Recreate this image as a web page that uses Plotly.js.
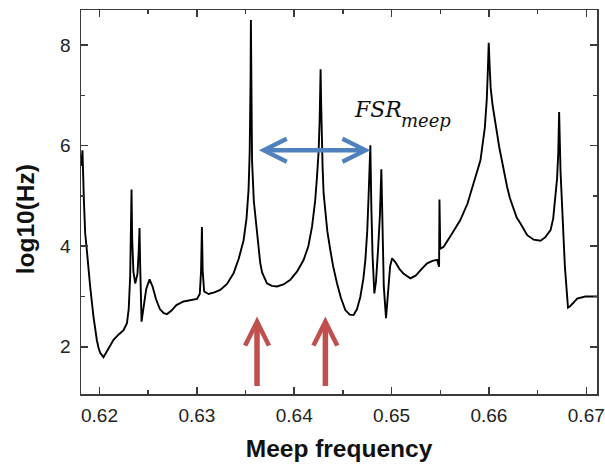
<!DOCTYPE html>
<html>
<head>
<meta charset="utf-8">
<script src="https://cdn.plot.ly/plotly-3.0.1.min.js"></script>
<style>html,body{margin:0;padding:0;background:#fff;}#chart{width:605px;height:465px;}</style>
</head>
<body>
<div id="chart"></div>
<script>
// Spectrum
const freq = [
  0.61812, 0.61825, 0.61840, 0.61853, 0.61870, 0.61885, 0.61904, 0.61938, 0.61955, 0.61973,
  0.61990, 0.62007, 0.62041, 0.62090, 0.62144, 0.62200, 0.62247, 0.62282, 0.62300, 0.62315,
  0.62323, 0.62329, 0.62335, 0.62348, 0.62367, 0.62390, 0.62403, 0.62411, 0.62418, 0.62425,
  0.62432, 0.62450, 0.62480, 0.62514, 0.62545, 0.62580, 0.62620, 0.62660, 0.62693, 0.62740,
  0.62790, 0.62863, 0.62930, 0.63001, 0.63030, 0.63043, 0.63052, 0.63060, 0.63075, 0.63120,
  0.63180, 0.63240, 0.63310, 0.63377, 0.63430, 0.63480, 0.63510, 0.63531, 0.63543, 0.63549,
  0.63552, 0.63555, 0.63558, 0.63561, 0.63567, 0.63585, 0.63600, 0.63625, 0.63640, 0.63648,
  0.63652, 0.63670, 0.63720, 0.63770, 0.63823, 0.63890, 0.63960, 0.64030, 0.64097, 0.64145,
  0.64183, 0.64215, 0.64234, 0.64251, 0.64261, 0.64266, 0.64271, 0.64276, 0.64281, 0.64291,
  0.64302, 0.64321, 0.64340, 0.64371, 0.64400, 0.64440, 0.64480, 0.64525, 0.64570, 0.64610,
  0.64645, 0.64679, 0.64710, 0.64731, 0.64750, 0.64765, 0.64775, 0.64782, 0.64792, 0.64805,
  0.64823, 0.64840, 0.64860, 0.64880, 0.64895, 0.64905, 0.64920, 0.64943, 0.64965, 0.64985,
  0.65005, 0.65040, 0.65080, 0.65124, 0.65193, 0.65250, 0.65310, 0.65365, 0.65420, 0.65468,
  0.65488, 0.65492, 0.65500, 0.65535, 0.65620, 0.65706, 0.65780, 0.65844, 0.65913, 0.65958,
  0.65978, 0.65988, 0.65998, 0.66008, 0.66018, 0.66038, 0.66058, 0.66084, 0.66105, 0.66130,
  0.66155, 0.66187, 0.66215, 0.66250, 0.66285, 0.66324, 0.66393, 0.66460, 0.66530, 0.66580,
  0.66633, 0.66660, 0.66684, 0.66700, 0.66712, 0.66721, 0.66735, 0.66780, 0.66812, 0.66830,
  0.66860, 0.66906, 0.66990, 0.67077, 0.67115
];
const logHz = [
  5.60, 5.91, 4.90, 4.26, 3.92, 3.55, 3.20, 2.60, 2.35, 2.13,
  1.98, 1.88, 1.79, 1.95, 2.14, 2.25, 2.33, 2.47, 2.75, 3.40,
  4.20, 5.13, 4.20, 3.50, 3.26, 3.45, 3.90, 4.36, 3.60, 2.90,
  2.50, 2.75, 3.15, 3.34, 3.20, 2.95, 2.75, 2.67, 2.65, 2.72,
  2.83, 2.90, 2.92, 2.95, 3.05, 3.50, 4.38, 3.50, 3.10, 3.05,
  3.08, 3.13, 3.25, 3.46, 3.75, 4.12, 4.55, 5.12, 5.90, 6.60,
  7.40, 8.50, 7.30, 6.50, 5.70, 4.90, 4.59, 4.05, 3.80, 3.72,
  3.66, 3.48, 3.26, 3.21, 3.20, 3.24, 3.33, 3.50, 3.73, 4.00,
  4.39, 4.90, 5.38, 5.90, 6.50, 7.00, 7.52, 6.90, 6.30, 5.60,
  5.05, 4.60, 4.30, 3.92, 3.60, 3.26, 2.97, 2.73, 2.64, 2.63,
  2.75, 2.99, 3.35, 3.73, 4.30, 5.05, 5.50, 6.01, 4.80, 3.80,
  3.06, 3.30, 3.90, 4.60, 5.53, 4.20, 3.20, 2.57, 3.20, 3.60,
  3.76, 3.68, 3.55, 3.45, 3.36, 3.42, 3.55, 3.66, 3.71, 3.73,
  3.59, 4.93, 3.95, 3.99, 4.25, 4.52, 4.85, 5.25, 5.71, 6.36,
  6.93, 7.45, 8.05, 7.55, 7.15, 6.80, 6.52, 6.24, 5.98, 5.72,
  5.46, 5.18, 4.96, 4.74, 4.57, 4.45, 4.22, 4.13, 4.11, 4.18,
  4.32, 4.55, 4.98, 5.35, 5.85, 6.67, 5.50, 3.60, 2.78, 2.80,
  2.86, 2.96, 3.00, 3.00, 3.00
];
const xTickVals = [0.62, 0.63, 0.64, 0.65, 0.66, 0.67];
const xTickText = ["0.62", "0.63", "0.64", "0.65", "0.66", "0.67"];
const yTickVals = [2, 4, 6, 8];
const yTickText = ["2", "4", "6", "8"];
const xTitle = "Meep frequency";
const yTitle = "log10(Hz)";
const fsrMain = "FSR";
const fsrSub = "meep";

const RED = "rgb(192,80,77)";
const BLUE = "rgb(79,129,189)";
const FONT = "Arial, 'Liberation Sans', sans-serif";

const trace = {
  x: freq, y: logHz, type: "scatter", mode: "lines",
  line: {color: "#000", width: 1.9, shape: "linear"},
  hoverinfo: "skip"
};

const axisCommon = {
  showgrid: false, zeroline: false, showline: true, linecolor: "#3a3a3a", linewidth: 1.5,
  mirror: "ticks", ticks: "inside", ticklen: 7, tickwidth: 1.5, tickcolor: "#3a3a3a",
  tickfont: {family: FONT, size: 19, color: "#222"}
};

const layout = {
  width: 605, height: 465,
  margin: {l: 81, r: 8, t: 10, b: 71},
  paper_bgcolor: "#fff", plot_bgcolor: "#fff",
  showlegend: false,
  xaxis: Object.assign({}, axisCommon, {
    range: [0.6181, 0.6711], tickmode: "array", tickvals: xTickVals, ticktext: xTickText,
    ticklabelstandoff: 4,
    minor: {dtick: 0.005, tick0: 0.615, ticks: "inside", ticklen: 4, tickwidth: 1.5, tickcolor: "#3a3a3a"},
    title: {text: xTitle, font: {family: FONT, size: 24.5, color: "#111", weight: "bold"}, standoff: 14}
  }),
  yaxis: Object.assign({}, axisCommon, {
    range: [1.06, 8.70], tickmode: "array", tickvals: yTickVals, ticktext: yTickText,
    ticklabelstandoff: 5,
    minor: {dtick: 1, tick0: 1, ticks: "inside", ticklen: 4, tickwidth: 1.5, tickcolor: "#3a3a3a"}
  }),
  annotations: [
    // y axis title (placed slightly below the plot centre, as in the reference)
    {xref: "paper", yref: "paper", x: -0.1085, y: 0.455, xanchor: "center", yanchor: "middle",
     textangle: -90, showarrow: false, text: "<b>" + yTitle + "</b>",
     font: {family: FONT, size: 24.5, color: "#111"}},
    // red arrows
    {x: 0.63618, y: 2.60, xref: "x", yref: "y", ax: 0, ay: 71, text: "", showarrow: true,
     arrowhead: 5, arrowsize: 0.85, arrowwidth: 5.5, arrowcolor: RED, standoff: 0},
    {x: 0.64320, y: 2.60, xref: "x", yref: "y", ax: 0, ay: 71, text: "", showarrow: true,
     arrowhead: 5, arrowsize: 0.85, arrowwidth: 5.5, arrowcolor: RED, standoff: 0},
    // blue double arrow
    {x: 0.64782, y: 5.91, xref: "x", yref: "y", ax: -113, ay: 0, text: "", showarrow: true,
     arrowside: "end+start", arrowhead: 5, startarrowhead: 5, arrowsize: 1.0, startarrowsize: 1.0,
     arrowwidth: 4.5, arrowcolor: BLUE, standoff: 0, startstandoff: 0},
    // FSR label
    {x: 0.64597, y: 6.73, xref: "x", yref: "y", xanchor: "left", yanchor: "middle", showarrow: false,
     text: "<i>" + fsrMain + "</i>", font: {family: "'DejaVu Serif', serif", size: 22, color: "#111"}},
    {x: 0.65075, y: 6.50, xref: "x", yref: "y", xanchor: "left", yanchor: "middle", showarrow: false,
     text: "<i>" + fsrSub + "</i>", font: {family: "'DejaVu Serif', serif", size: 18, color: "#111"}}
  ]
};

Plotly.newPlot("chart", [trace], layout, {staticPlot: true, displayModeBar: false});
</script>
</body>
</html>
